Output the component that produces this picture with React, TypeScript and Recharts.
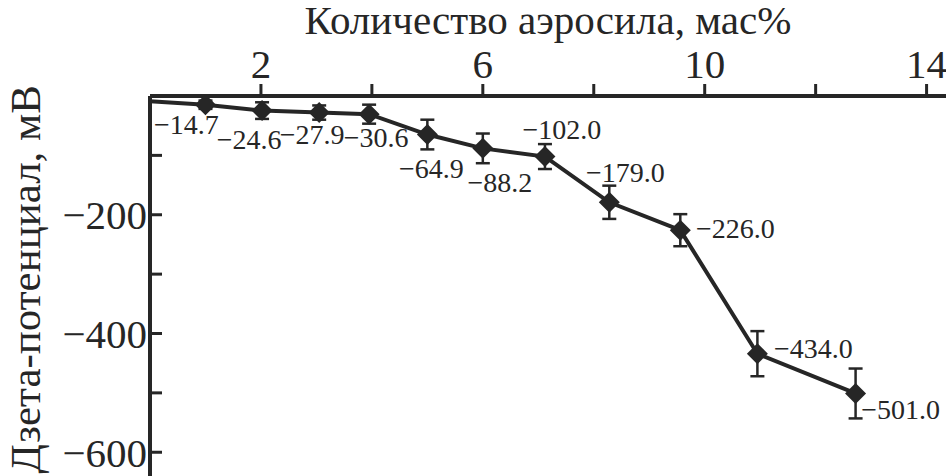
import React from 'react';
import { LineChart, Line, XAxis, YAxis, ErrorBar, LabelList } from 'recharts';

const aerosilContent = [0, 1, 2.02, 3.05, 3.95, 5, 6, 7.12, 8.28, 9.56, 10.95, 12.72];
const zetaPotential = [-9, -14.7, -24.6, -27.9, -30.6, -64.9, -88.2, -102.0, -179.0, -226.0, -434.0, -501.0];
const zetaError = [0, 7, 14, 12, 16, 25, 25, 21, 28, 27, 38, 42];
const pointLabels = ['', '−14.7', '−24.6', '−27.9', '−30.6', '−64.9', '−88.2', '−102.0', '−179.0', '−226.0', '−434.0', '−501.0'];

const xTicks = [2, 4, 6, 8, 10, 12, 14];
const xTickLabels = ['2', '', '6', '', '10', '', '14'];
const yTicks = [-100, -200, -300, -400, -500, -600];
const yTickLabels = ['', '−200', '', '−400', '', '−600'];

const xTitle = 'Количество аэросила, мас%';
const yTitle = 'Дзета-потенциал, мВ';

const data = aerosilContent.map((x, i) => ({
  x,
  y: zetaPotential[i],
  err: zetaError[i],
  label: pointLabels[i],
}));

const INK = '#262626';
const FONT = "'Liberation Serif', Tinos, 'Times New Roman', Times, serif";

// label placement relative to each marker (centre offsets, px)
const labelOffsets: [number, number][] = [
  [0, 0], [-19, 19], [-13, 29], [-7, 22], [7, 23], [4, 34], [17, 34], [17, -27], [16, -30], [55, -2], [56, -5], [45, 16],
];

const Diamond = (props: any) => {
  const { cx, cy, index } = props;
  if (index === 0 || cx == null || cy == null) return <g key={`d${index}`} />;
  const r = 10.5;
  return (
    <path
      key={`d${index}`}
      d={`M${cx},${cy - r} L${cx + r},${cy} L${cx},${cy + r} L${cx - r},${cy} Z`}
      fill={INK}
    />
  );
};

const renderLabel = (props: any) => {
  const { x, y, index, value } = props;
  if (!value) return null;
  const [dx, dy] = labelOffsets[index] || [0, 0];
  return (
    <text
      x={x + dx}
      y={y + dy}
      dy="0.35em"
      textAnchor="middle"
      fontSize={28}
      fontFamily={FONT}
      fill={INK}
    >
      {value}
    </text>
  );
};

export default function App() {
  return (
    <div style={{ position: 'absolute', left: 0, top: 0, background: '#fff', fontFamily: FONT }}>
      <LineChart
        width={946}
        height={476}
        data={data}
        margin={{ top: 0, right: 0, bottom: 0, left: 0 }}
      >
        <XAxis
          dataKey="x"
          type="number"
          orientation="top"
          domain={[0, 14.35]}
          ticks={xTicks}
          interval={0}
          height={96}
          tickFormatter={(v: number) => xTickLabels[xTicks.indexOf(v)] ?? ''}
          axisLine={{ stroke: INK, strokeWidth: 4 }}
          tickLine={{ stroke: INK, strokeWidth: 3 }}
          tickSize={12}
          tickMargin={6}
          tick={{ fontSize: 41, fill: INK, fontFamily: FONT }}
          label={{
            content: (p: any) => {
              const vb = p.viewBox || { x: 150, width: 796 };
              return (
                <text
                  x={vb.x + vb.width / 2}
                  y={34}
                  textAnchor="middle"
                  fontSize={41}
                  fontFamily={FONT}
                  fill={INK}
                >
                  {xTitle}
                </text>
              );
            },
          }}
        />
        <YAxis
          type="number"
          domain={[-640, 0]}
          ticks={yTicks}
          interval={0}
          width={150}
          allowDataOverflow
          tickFormatter={(v: number) => yTickLabels[yTicks.indexOf(v)] ?? ''}
          axisLine={{ stroke: INK, strokeWidth: 4 }}
          tickLine={{ stroke: INK, strokeWidth: 3 }}
          tickSize={-12}
          tickMargin={15}
          tick={{ fontSize: 41, fill: INK, fontFamily: FONT }}
          label={{
            content: () => (
              <text
                x={25}
                y={85}
                transform="rotate(-90 25 85)"
                textAnchor="end"
                dy="0.35em"
                fontSize={43}
                fontFamily={FONT}
                fill={INK}
              >
                {yTitle}
              </text>
            ),
          }}
        />
        <Line
          dataKey="y"
          stroke={INK}
          strokeWidth={4}
          dot={Diamond}
          activeDot={false}
          isAnimationActive={false}
        >
          <ErrorBar dataKey="err" direction="y" width={7} strokeWidth={2.5} stroke={INK} isAnimationActive={false} />
          <LabelList dataKey="label" content={renderLabel} />
        </Line>
      </LineChart>
    </div>
  );
}
